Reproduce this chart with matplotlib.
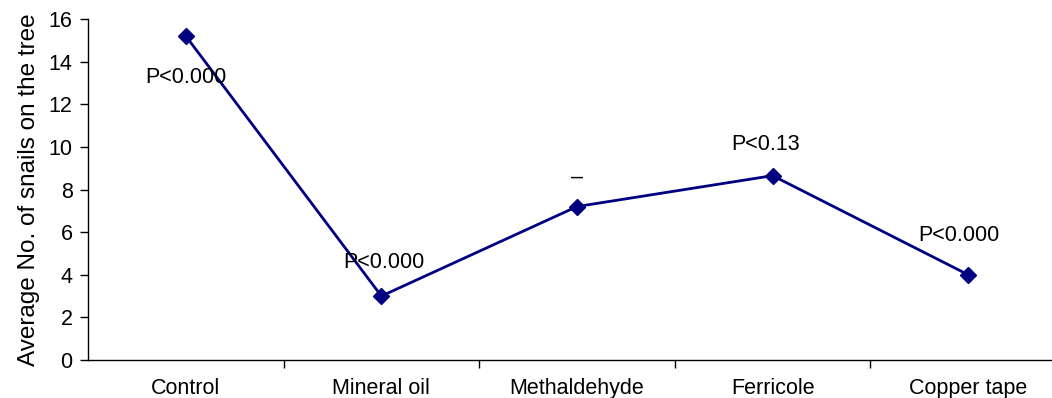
import matplotlib
matplotlib.use("Agg")
import matplotlib.pyplot as plt

treatments = ["Control", "Mineral oil", "Methaldehyde", "Ferricole", "Copper tape"]
avg_snails = [15.2, 3.0, 7.2, 8.65, 4.0]
p_labels = ["P<0.000", "P<0.000", "\u2013", "P<0.13", "P<0.000"]
# label offsets from each point, in points
label_offsets = [(0, -29.5), (1.5, 24.5), (0, 21.5), (-5, 22.5), (-7, 28)]

plt.rcParams['font.family'] = ['Liberation Sans', 'DejaVu Sans']
fs = 15.5

fig = plt.figure(figsize=(10.52, 3.98), dpi=100)
ax = fig.add_axes([88 / 1052, 38 / 398, 978 / 1052, 341 / 398])

x = list(range(len(treatments)))
ax.plot(x, avg_snails, color='#000080', linewidth=2, marker='D', markersize=8,
        markerfacecolor='#000080', markeredgecolor='#000080')

for xi, yi, lab, off in zip(x, avg_snails, p_labels, label_offsets):
    ax.annotate(lab, (xi, yi), xytext=off, textcoords='offset points',
                ha='center', va='center', fontsize=fs)

ax.set_xlim(-0.5, len(treatments) - 0.5)
ax.set_ylim(0, 16)
ax.set_yticks(range(0, 17, 2))
ax.tick_params(axis='y', labelsize=fs, direction='out', length=6, width=1, pad=5)

# category ticks sit between the categories
ax.set_xticks([i + 0.5 for i in range(len(treatments) - 1)])
ax.set_xticklabels([])
ax.set_xticks(x, minor=True)
ax.set_xticklabels(treatments, minor=True, fontsize=fs)
ax.tick_params(axis='x', which='major', direction='out', length=6, width=1)
ax.tick_params(axis='x', which='minor', length=0, pad=13)

ax.spines['top'].set_visible(False)
ax.spines['right'].set_visible(False)
ax.spines['left'].set_linewidth(1)
ax.spines['bottom'].set_linewidth(1)

ax.set_ylabel('Average No. of snails on the tree', fontsize=17.5, labelpad=6)

fig.savefig('out.png', dpi=100)
